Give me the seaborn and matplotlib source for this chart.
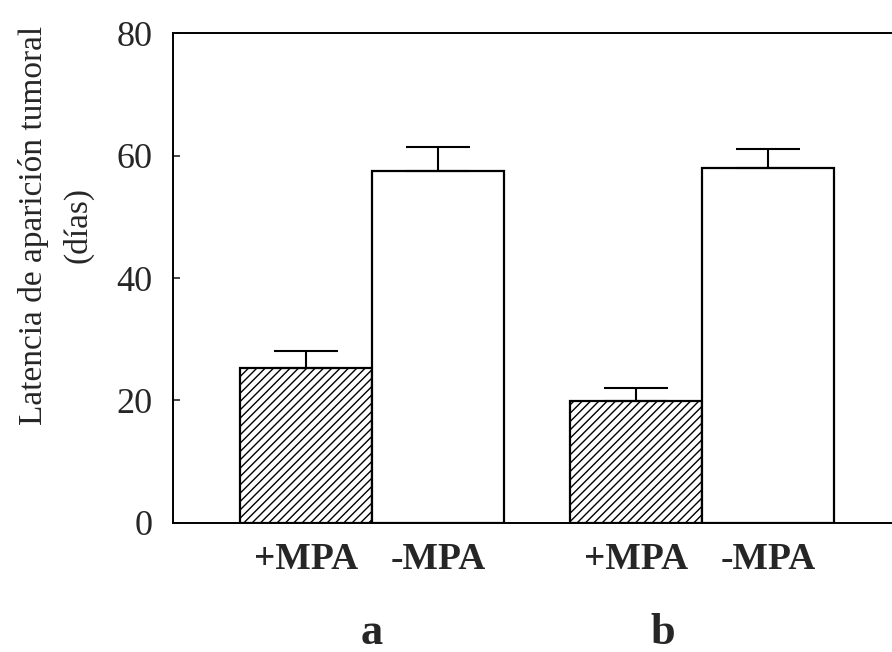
import matplotlib
matplotlib.use("Agg")
import matplotlib.pyplot as plt
import seaborn as sns
import pandas as pd
import numpy as np

groups = ["a", "a", "b", "b"]
treatments = ["+MPA", "-MPA", "+MPA", "-MPA"]
means = [25.3, 57.5, 19.9, 58.0]
errors = [2.8, 3.9, 2.1, 3.1]
group_labels = ["a", "b"]
yticks = [0, 20, 40, 60, 80]

sns.set_style("white")
plt.rcParams["font.family"] = ["Liberation Serif", "DejaVu Serif"]
plt.rcParams["hatch.linewidth"] = 1.0

df = pd.DataFrame({"group": groups, "treatment": treatments, "value": means, "err": errors})

fig = plt.figure(figsize=(8.92, 6.52), dpi=100)
ax = fig.add_axes([0.194, 0.198, 0.806, 0.751])

sns.barplot(data=df, x="group", y="value", hue="treatment",
            hue_order=["+MPA", "-MPA"], order=group_labels,
            palette={"+MPA": "white", "-MPA": "white"}, saturation=1,
            edgecolor="black", linewidth=1.6, errorbar=None, legend=False,
            width=0.8, ax=ax)

centers = []
tick_labels = []
for hue_level, container in zip(["+MPA", "-MPA"], ax.containers):
    for grp, bar in zip(group_labels, container):
        sub = df[(df.group == grp) & (df.treatment == hue_level)].iloc[0]
        xc = bar.get_x() + bar.get_width() / 2
        if hue_level == "+MPA":
            bar.set_hatch("////")
        ax.errorbar(xc, sub.value, yerr=[[0], [sub.err]], fmt="none",
                    ecolor="black", elinewidth=1.5, capsize=23, capthick=1.5, zorder=1)
        centers.append(xc)
        tick_labels.append(hue_level)

order = np.argsort(centers)
ax.set_xticks([centers[i] for i in order])
ax.set_xticklabels([tick_labels[i] for i in order], fontsize=27, fontweight="bold")
ax.tick_params(axis="x", length=0, pad=14)

ax.set_xlim(-0.603, 1.576)
ax.set_ylim(0, 80)
ax.set_yticks(yticks)
ax.set_yticklabels([str(t) for t in yticks], fontsize=26)
ax.tick_params(axis="y", direction="in", length=5, width=1.2, pad=15, left=True)

for s in ["left", "bottom", "top"]:
    ax.spines[s].set_visible(True)
    ax.spines[s].set_color("black")
    ax.spines[s].set_linewidth(1.4)
ax.spines["right"].set_visible(False)

ax.set_xlabel("")
ax.set_ylabel("Latencia de aparición tumoral\n(días)", fontsize=24,
              multialignment="center", linespacing=1.55)
ax.yaxis.label.set_verticalalignment("center")
ax.yaxis.set_label_coords(-0.163, 0.608)

ax.text(0, -0.225, group_labels[0], transform=ax.get_xaxis_transform(),
        ha="center", va="center", fontsize=32, fontweight="bold")
ax.text(0.88, -0.225, group_labels[1], transform=ax.get_xaxis_transform(),
        ha="center", va="center", fontsize=32, fontweight="bold")

fig.savefig("out.png", dpi=100)
